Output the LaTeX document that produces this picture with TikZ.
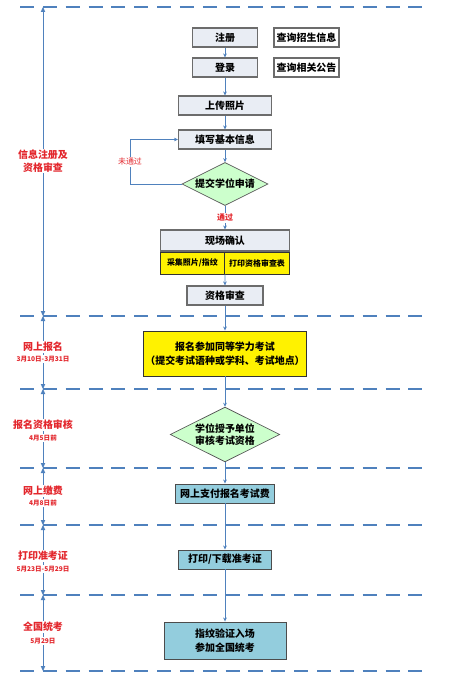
\documentclass[tikz,border=0pt]{standalone}
\usepackage{fontspec}
\setmainfont{Noto Sans CJK SC}
\usetikzlibrary{arrows.meta}
\usetikzlibrary{positioning,shapes.geometric}
\definecolor{lineblue}{HTML}{4F81BD}
\definecolor{boxgray}{HTML}{E9EDF4}
\definecolor{choicegreen}{HTML}{CCFFCC}
\definecolor{tealfill}{HTML}{93CDDD}
\definecolor{labelred}{HTML}{E3262C}
\tikzset{
    procbox/.style={
        draw=gray!85!black,
        fill=boxgray,
        line width=0.9pt,
        minimum width=19.5mm,
        minimum height=5.7mm,
        inner sep=1pt,
        font=\fontsize{8.5}{10}\selectfont\bfseries
    },
    infobox/.style={
        procbox,
        fill=white
    },
    yellowbox/.style={
        draw=black!80,
        fill=yellow,
        line width=0.8pt,
        minimum height=6.6mm,
        inner sep=1pt,
        font=\fontsize{6.8}{8}\selectfont\bfseries
    },
    choice/.style={
        draw=black!65,
        fill=choicegreen,
        diamond,
        aspect=2,
        line width=0.6pt,
        minimum width=24.6mm,
        minimum height=12mm,
        inner sep=1pt,
        font=\fontsize{8.5}{10}\selectfont\bfseries
    },
    tealbox/.style={
        draw=black!70,
        fill=tealfill,
        line width=0.8pt,
        minimum height=5.7mm,
        inner sep=1pt,
        font=\fontsize{8.5}{10}\selectfont\bfseries
    },
    flow/.style={
        draw=lineblue,
        line width=0.6pt,
        -{Stealth[length=1.2mm, width=1.1mm]}
    },
    axis/.style={
        draw=lineblue,
        line width=0.8pt,
        {Triangle[length=1.5mm, width=1.3mm]}-{Triangle[length=1.5mm, width=1.3mm]}
    },
    divider/.style={
        draw=lineblue,
        line width=1.1pt,
        dash pattern=on 12pt off 7.5pt
    },
    stagelabel/.style={
        fill=white,
        text=labelred,
        inner sep=1pt,
        font=\fontsize{8.5}{11}\selectfont\bfseries
    },
    datelabel/.style={
        fill=white,
        text=labelred,
        inner sep=0.5pt,
        font=\fontsize{5.6}{6.5}\selectfont\bfseries
    },
    passlabel/.style={
        fill=white,
        text=labelred,
        inner sep=1pt,
        font=\fontsize{6.8}{8}\selectfont\bfseries
    }
}

\begin{document}
\begin{tikzpicture}[x=0.03cm, y=-0.03cm]
  \useasboundingbox (0,0) rectangle (459,683);

  % Stage dividers
  \foreach \y [count=\i from 0] in {7,316,389,468,525,595,671} {
    \draw[divider] (20,\y) -- (430,\y);
    \coordinate (d\i) at (43,\y);
  }

  % Time axis
  \foreach \i in {0,...,5} {
    \pgfmathtruncatemacro{\j}{\i+1}
    \draw[axis] (d\i) -- (d\j);
  }

  % Stage labels
  \node[stagelabel, align=center] (s1) at (43,161) {信息注册及\\资格审查};
  \node[stagelabel] (s2) at (43,347) {网上报名};
  \node[datelabel] (s2d) at (43,359) {3月10日-3月31日};
  \node[stagelabel] (s3) at (43,425) {报名资格审核};
  \node[datelabel] (s3d) at (43,438) {4月5日前};
  \node[stagelabel] (s4) at (43,491) {网上缴费};
  \node[datelabel] (s4d) at (43,503) {4月8日前};
  \node[stagelabel] (s5) at (43,556) {打印准考证};
  \node[datelabel] (s5d) at (43,569) {5月23日-5月29日};
  \node[stagelabel] (s6) at (43,627) {全国统考};
  \node[datelabel] (s6d) at (43,641) {5月29日};

  % Steps
  \node[procbox] (reg) at (225,37.5) {注册};
  \node[infobox] (qinfo) at (306.5,37.5) {查询招生信息};
  \node[procbox] (login) at (225,67.5) {登录};
  \node[infobox] (qnote) at (306.5,67.5) {查询相关公告};
  \node[procbox, minimum width=27.9mm] (photo) at (225,105.5) {上传照片};
  \node[procbox, minimum width=27.9mm] (form) at (225,139.5) {填写基本信息};
  \node[choice] (apply) at (225,184) {提交学位申请};
  \node[procbox, minimum width=38.7mm, minimum height=6.3mm] (onsite) at (225,240.5) {现场确认};
  \node[yellowbox, anchor=north west, minimum width=19.2mm] (collect) at (onsite.south west) {采集照片/指纹};
  \node[yellowbox, anchor=north east, minimum width=19.5mm] (printform) at (onsite.south east) {打印资格审查表};
  \node[procbox, minimum width=22.8mm] (review) at (225,295.5) {资格审查};
  \node[yellowbox, align=center, minimum width=48.9mm, minimum height=13.5mm,
        font=\fontsize{8.5}{12}\selectfont\bfseries] (enroll) at (225,353.5)
        {报名参加同等学力考试\\（提交考试语种或学科、考试地点）};
  \node[choice, align=center, minimum width=32.7mm, minimum height=14.7mm] (check) at (225,434.5) {学位授予单位\\审核考试资格};
  \node[tealbox, minimum width=29.7mm] (pay) at (225,493.5) {网上支付报名考试费};
  \node[tealbox, minimum width=27.9mm] (ticket) at (225,559.5) {打印/下载准考证};
  \node[tealbox, align=center, minimum width=36.6mm, minimum height=11.1mm,
        font=\fontsize{8.5}{12}\selectfont\bfseries] (exam) at (225,640.5) {指纹验证入场\\参加全国统考};

  % Connectors
  \draw[flow] (reg) -- (login);
  \draw[flow] (login) -- (photo);
  \draw[flow] (photo) -- (form);
  \draw[flow] (form) -- (apply);
  \draw[flow] (apply) -- node[passlabel] {通过} (onsite);
  \coordinate (back) at (130,184);
  \draw[flow] (apply.west) -- (back) |- node[pos=0.25, passlabel, font=\fontsize{6.8}{8}\selectfont] {未通过} (form.west);
  \draw[flow] (collect.south east) -- (review);
  \draw[flow] (review) -- (enroll);
  \draw[flow] (enroll) -- (check);
  \draw[flow] (check) -- (pay);
  \draw[flow] (pay) -- (ticket);
  \draw[flow] (ticket) -- (exam);
\end{tikzpicture}
\end{document}
